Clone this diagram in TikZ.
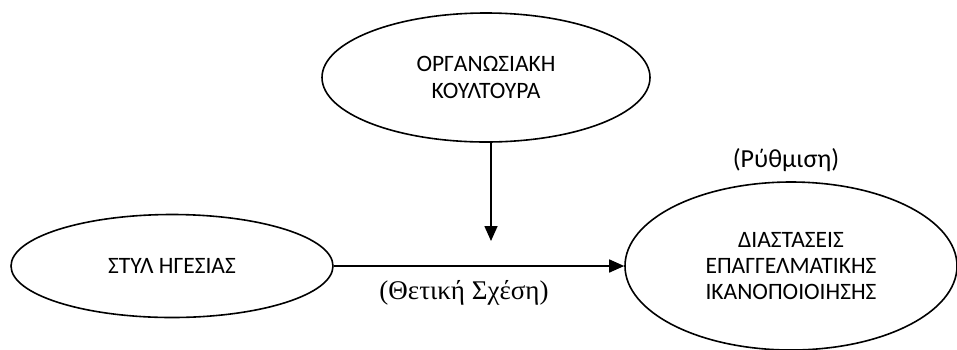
\documentclass[tikz,border=0pt]{standalone}
\usepackage{fontspec}
\setmainfont{Carlito}
\newfontfamily\timesgr{Liberation Serif}
\usetikzlibrary{shapes.geometric}
\usetikzlibrary{arrows.meta, positioning}
\tikzstyle{oval}=[draw, ellipse, inner sep=0pt, line width=1.6pt, align=center, font=\fontsize{23.5}{27}\selectfont]
\tikzstyle{arr}=[line width=1.6pt, -{Triangle[length=15pt,width=13pt]}]

\begin{document}
\begin{tikzpicture}[x=1pt,y=-1pt]
	\useasboundingbox (0,0) rectangle (957,349);
	\node[oval, minimum width=328pt, minimum height=129pt] (culture) at (486, 77.5) {ΟΡΓΑΝΩΣΙΑΚΗ\\ΚΟΥΛΤΟΥΡΑ};
	\node[oval, minimum width=322pt, minimum height=103pt] (style) at (172, 266) {ΣΤΥΛ ΗΓΕΣΙΑΣ};
	\node[oval, minimum width=332pt, minimum height=168pt, font=\fontsize{23.5}{26}\selectfont] (dims) at (791, 266) {ΔΙΑΣΤΑΣΕΙΣ\\ΕΠΑΓΓΕΛΜΑΤΙΚΗΣ\\ΙΚΑΝΟΠΟΙΟΙΗΣΗΣ};
	\node[font=\fontsize{26}{30}\selectfont] (reg) at (786, 160) {(Ρύθμιση)};
	\node[font=\timesgr\fontsize{27}{31}\selectfont] (pos) at (464, 293) {(Θετική Σχέση)};
	\coordinate (mod) at (491, 241);
	\draw [arr] (culture.south -| mod) to (mod);
	\draw [arr] (style.east) to (dims.west);
\end{tikzpicture}
\end{document}
